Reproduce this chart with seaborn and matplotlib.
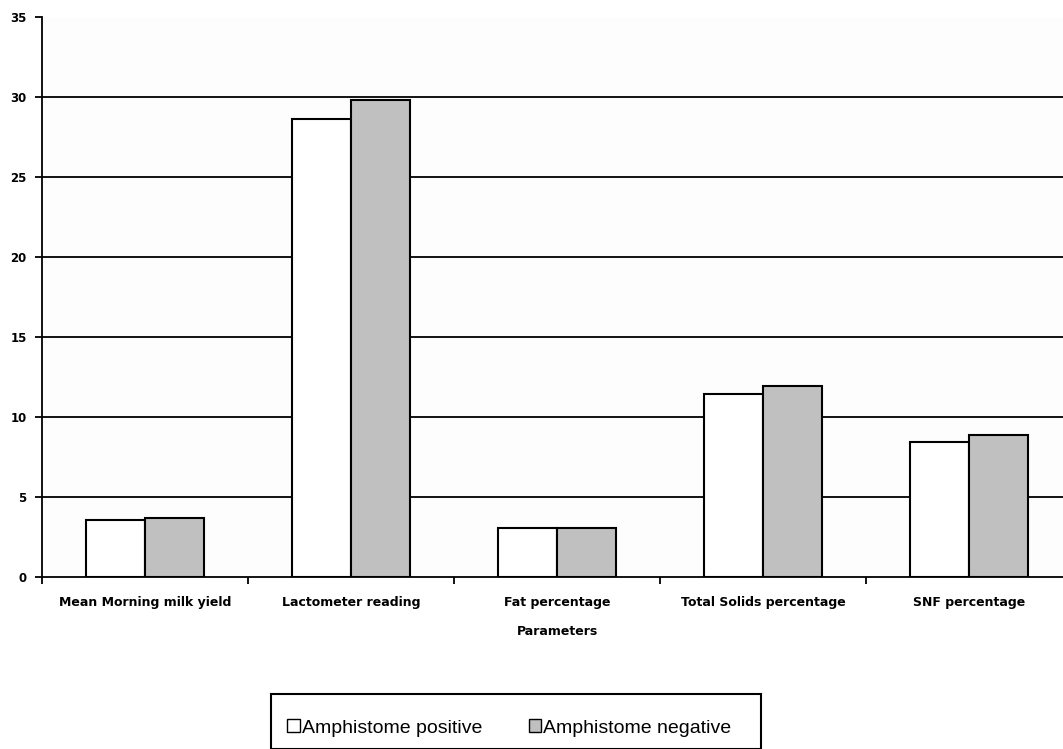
import numpy as np
import pandas as pd
import matplotlib
matplotlib.use("Agg")
import matplotlib.pyplot as plt
from matplotlib.patches import Rectangle
import seaborn as sns

# Milk parameters compared between the two groups
parameters = ["Mean Morning milk yield", "Lactometer reading", "Fat percentage",
              "Total Solids percentage", "SNF percentage"]
positive_values = [3.56, 28.6, 3.06, 11.45, 8.45]
negative_values = [3.69, 29.8, 3.06, 11.95, 8.85]
series_names = ["Amphistome positive", "Amphistome negative"]
y_ticks = [0, 5, 10, 15, 20, 25, 30, 35]

df = pd.DataFrame({
    "Parameter": parameters * 2,
    "Value": positive_values + negative_values,
    "Group": [series_names[0]] * len(parameters) + [series_names[1]] * len(parameters),
})

sns.set_theme(style="white")
plt.rcParams["font.family"] = ["DejaVu Sans"]
plt.rcParams["text.color"] = "black"
plt.rcParams["xtick.color"] = "black"
plt.rcParams["ytick.color"] = "black"
plt.rcParams["axes.labelcolor"] = "black"

W, H = 1063, 749
fig = plt.figure(figsize=(W / 100, H / 100), dpi=100)
fig.patch.set_facecolor("white")

# axes: left edge at x=42, y=0 at 577, y=35 at 17; right edge runs past the figure
ax_left, ax_right = 42, 1072
ax_bottom, ax_top = 577, 17
ax = fig.add_axes([ax_left / W, 1 - ax_bottom / H, (ax_right - ax_left) / W, (ax_bottom - ax_top) / H])
ax.set_facecolor("#fdfdfd")

palette = {series_names[0]: "#ffffff", series_names[1]: "#c0c0c0"}
sns.barplot(data=df, x="Parameter", y="Value", hue="Group", palette=palette,
            order=parameters, hue_order=series_names, width=0.57, gap=0,
            edgecolor="black", linewidth=1.5, saturation=1, ax=ax, legend=False, zorder=3)

ax.set_xlim(-0.5, len(parameters) - 0.5)
ax.set_ylim(0, 35)
ax.set_yticks(y_ticks)
ax.set_yticklabels([str(t) for t in y_ticks], fontsize=8.5, fontweight="bold")

# horizontal gridlines (none at the top)
for t in y_ticks[1:-1]:
    ax.axhline(t, color="black", linewidth=1.3, zorder=1)

for s in ["top", "right"]:
    ax.spines[s].set_visible(False)
for s in ["left", "bottom"]:
    ax.spines[s].set_color("black")
    ax.spines[s].set_linewidth(1.3)
    ax.spines[s].set_zorder(4)

ax.tick_params(axis="y", direction="out", length=5, width=1.3, colors="black", pad=6, left=True)
# category labels centred, tick marks between categories
ax.set_xticks(range(len(parameters)))
ax.set_xticklabels(parameters, fontsize=9, fontweight="bold")
ax.tick_params(axis="x", which="major", length=0, pad=14, colors="black")
ax.set_xticks(np.arange(-0.5, len(parameters), 1.0), minor=True)
ax.tick_params(axis="x", which="minor", direction="out", length=5, width=1.3, color="black", bottom=True)

ax.set_xlabel("Parameters", fontsize=9, fontweight="bold", labelpad=11, color="black")
ax.set_ylabel("")

# legend frame and entries
fig.add_artist(Rectangle((271 / W, 0), (761 - 271) / W, 1 - 694 / H - 0,
                         transform=fig.transFigure, facecolor="white", edgecolor="black",
                         linewidth=1.5, zorder=1))
handles = [Rectangle((0, 0), 1, 1, facecolor=palette[n], edgecolor="black", linewidth=1.0)
           for n in series_names]
fig.legend(handles, series_names, loc="center left",
           bbox_to_anchor=(287 / W, 1 - 728 / H), ncol=2, frameon=False,
           prop={"family": "Liberation Sans", "size": 14},
           handlelength=0.65, handleheight=0.65, handletextpad=0.1, columnspacing=2.4,
           borderpad=0, borderaxespad=0)

fig.savefig("out.png", dpi=100, facecolor="white")
